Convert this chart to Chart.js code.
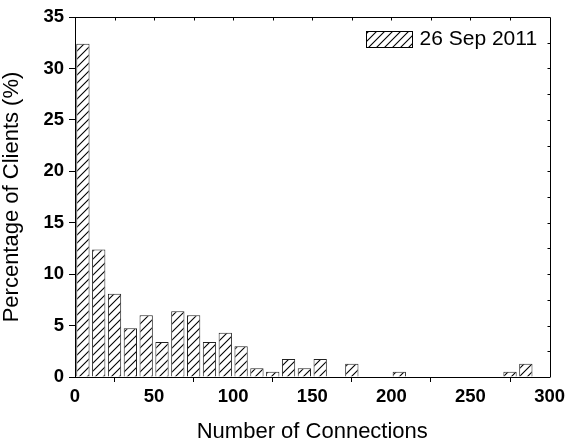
<!DOCTYPE html>
<html>
<head>
<meta charset="utf-8">
<script src="https://cdn.jsdelivr.net/npm/chart.js@4.4.0/dist/chart.umd.min.js"></script>
<style>
  html, body { margin: 0; padding: 0; background: #fff; }
  #wrap { width: 569px; height: 440px; }
</style>
</head>
<body>
<div id="wrap"><canvas id="chart" width="569" height="440"></canvas></div>
<script>
// histogram bins (centre of each 10-connection bin)
const binCenters = [5, 15, 25, 35, 45, 55, 65, 75, 85, 95,
  105, 115, 125, 135, 145, 155, 165, 175, 185, 195,
  205, 215, 225, 235, 245, 255, 265, 275, 285, 295];
const pctClients = [32.4, 12.4, 8.1, 4.75, 6.0, 3.4, 6.4, 6.0, 3.4, 4.3,
  3.0, 0.85, 0.5, 1.75, 0.85, 1.75, 0, 1.3, 0, 0,
  0.5, 0, 0, 0, 0, 0, 0, 0.5, 1.3, 0];
const seriesLabel = '26 Sep 2011';
const xTicksStep = 50;
const yTicksStep = 5;

const FONT = "'Liberation Sans', Arial, sans-serif";

function hatchPattern() {
  const n = 8;
  const c = document.createElement('canvas');
  c.width = n; c.height = n;
  const g = c.getContext('2d');
  g.fillStyle = '#fff';
  g.fillRect(0, 0, n, n);
  g.strokeStyle = '#000';
  g.lineWidth = 1.1;
  g.beginPath();
  g.moveTo(-1, n + 1); g.lineTo(n + 1, -1);
  g.moveTo(-1, 1); g.lineTo(1, -1);
  g.moveTo(n - 1, n + 1); g.lineTo(n + 1, n - 1);
  g.stroke();
  return g.createPattern(c, 'repeat');
}

// box round the plot, with small inward ticks on top and right
const framePlugin = {
  id: 'frame',
  afterDraw(chart) {
    const { ctx, chartArea: a, scales: { x, y } } = chart;
    const px = v => Math.round(v) + 0.5;
    ctx.save();
    ctx.strokeStyle = '#000';
    ctx.lineWidth = 1;
    ctx.beginPath();
    ctx.moveTo(px(a.left), px(a.top));
    ctx.lineTo(px(a.right), px(a.top));
    ctx.lineTo(px(a.right), px(a.bottom));
    for (let v = 25; v < 300; v += 25) {
      const xx = px(x.getPixelForValue(v));
      ctx.moveTo(xx, px(a.top));
      ctx.lineTo(xx, px(a.top) + 3);
    }
    for (let v = 2.5; v < 35; v += 2.5) {
      const yy = px(y.getPixelForValue(v));
      ctx.moveTo(px(a.right), yy);
      ctx.lineTo(px(a.right) - 3, yy);
    }
    ctx.stroke();

    // legend, top right inside the plot
    const ds = chart.data.datasets[0];
    ctx.font = '21px ' + FONT;
    const w = ctx.measureText(ds.label).width;
    const textLeft = a.right - 12.5 - w;
    const boxX = Math.round(textLeft - 7.5 - 46) + 0.5;
    const boxY = Math.round(a.top + 14) + 0.5;
    ctx.fillStyle = ds.backgroundColor;
    ctx.fillRect(boxX, boxY, 46, 16);
    ctx.strokeStyle = '#000';
    ctx.strokeRect(boxX, boxY, 46, 16);
    ctx.fillStyle = '#000';
    ctx.textBaseline = 'middle';
    ctx.textAlign = 'left';
    ctx.fillText(ds.label, textLeft, a.top + 22.3);
    ctx.restore();
  }
};

const hatch = hatchPattern();

new Chart(document.getElementById('chart'), {
  type: 'bar',
  data: {
    datasets: [{
      label: seriesLabel,
      data: binCenters.map((c, i) => ({ x: c, y: pctClients[i] })),
      backgroundColor: hatch,
      borderColor: '#222',
      borderWidth: 1,
      barPercentage: 0.84,
      categoryPercentage: 1.0
    }]
  },
  options: {
    responsive: false,
    animation: false,
    layout: { padding: { top: 17, right: 18, left: 0, bottom: 0 } },
    plugins: {
      tooltip: { enabled: false },
      legend: { display: false }
    },
    scales: {
      x: {
        type: 'linear',
        min: 0,
        max: 300,
        offset: false,
        afterFit(s) { s.height = 63; },
        border: { display: true, color: '#000', width: 1 },
        grid: { display: true, drawOnChartArea: false, drawTicks: true, tickLength: 5, color: '#000' },
        ticks: {
          stepSize: xTicksStep,
          color: '#000',
          padding: 4,
          maxRotation: 0,
          font: { family: FONT, size: 18.5, weight: 'bold' }
        },
        title: {
          display: true,
          text: 'Number of Connections',
          color: '#000',
          padding: { top: 0, bottom: 0 },
          font: { family: FONT, size: 22, lineHeight: 0.75 }
        }
      },
      y: {
        min: 0,
        max: 35,
        afterFit(s) { s.width = 75; },
        border: { display: true, color: '#000', width: 1 },
        grid: { display: true, drawOnChartArea: false, drawTicks: true, tickLength: 6, color: '#000' },
        ticks: {
          stepSize: yTicksStep,
          color: '#000',
          padding: 5,
          font: { family: FONT, size: 18.5, weight: 'bold' }
        },
        title: {
          display: true,
          text: 'Percentage of Clients (%)',
          color: '#000',
          padding: { top: 1, bottom: 0 },
          font: { family: FONT, size: 22, lineHeight: 1 }
        }
      }
    }
  },
  plugins: [framePlugin]
});
</script>
</body>
</html>
